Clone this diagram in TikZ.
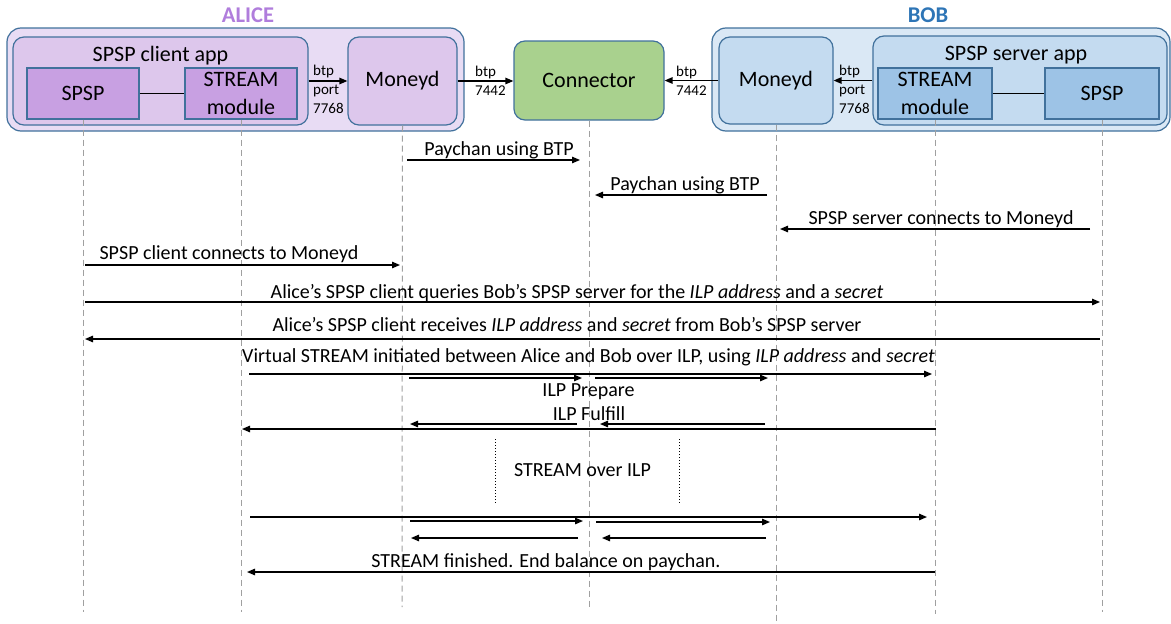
\documentclass[tikz,border=0pt]{standalone}
\usepackage{fontspec}
\setmainfont{Carlito}
\usetikzlibrary{arrows.meta}
\definecolor{bordc}{RGB}{65,113,156}
\definecolor{aouter}{RGB}{232,220,244}
\definecolor{ainner}{RGB}{221,199,236}
\definecolor{amod}{RGB}{200,160,226}
\definecolor{bouter}{RGB}{218,232,245}
\definecolor{binner}{RGB}{196,219,240}
\definecolor{bmod}{RGB}{157,195,230}
\definecolor{connc}{RGB}{169,209,142}
\definecolor{alicec}{RGB}{176,125,220}
\definecolor{bobc}{RGB}{46,117,182}
\definecolor{lifec}{RGB}{160,160,160}
\begin{document}
\begin{tikzpicture}[x=1pt,y=-1pt,
  box/.style={draw=bordc, line width=1.2pt, inner sep=0pt, anchor=center},
  outerbox/.style={box, rounded corners=14pt},
  roundbox/.style={box, rounded corners=11pt},
  big/.style={font=\fontsize{22}{28.5}\selectfont},
  msgf/.style={font=\fontsize{20}{22}\selectfont},
  small/.style={font=\fontsize{15}{18.5}\selectfont},
  lbl/.style={anchor=base, inner sep=0pt},
  slbl/.style={anchor=base west, inner sep=0pt, small},
  life/.style={draw=lifec, line width=1pt, dash pattern=on 6pt off 4pt},
  msg/.style={line width=1.3pt, -{Triangle[length=8pt,width=6.5pt]}},
  link/.style={line width=1.3pt, -{Triangle[length=8pt,width=6.5pt]}}
]
\useasboundingbox (0,0) rectangle (1171,624);

% ---- Alice side
\node[outerbox, fill=aouter, minimum width=457, minimum height=103] (aouter) at (235.5,79.5) {};
\node[lbl, font=\fontsize{22.5}{26}\selectfont\bfseries, text=alicec] (alicelbl) at (248,22.7) {ALICE};
\node[roundbox, fill=ainner, minimum width=295, minimum height=88] (aapp) at (160.5,81) {};
\node[lbl, big] (aapplbl) at (160.5,61) {SPSP client app};
\node[box, fill=amod, minimum width=112, minimum height=51, big] (aspsp) at (83,93.5) {SPSP};
\node[box, fill=amod, minimum width=112, minimum height=51, big, align=center] (astream) at (241,93.5) {STREAM\\module};
\node[roundbox, fill=ainner, minimum width=109, minimum height=88, big] (amoneyd) at (402.5,81) {Moneyd};
\draw[line width=1.2pt] (aspsp.east) -- (astream.west);

% ---- Connector
\node[roundbox, fill=connc, minimum width=150, minimum height=79, big] (conn) at (589,80.5) {Connector};

% ---- Bob side
\node[outerbox, fill=bouter, minimum width=458, minimum height=103] (bouter) at (941,79.5) {};
\node[lbl, font=\fontsize{22.5}{26}\selectfont\bfseries, text=bobc] (boblbl) at (928,22.7) {BOB};
\node[roundbox, fill=binner, minimum width=114, minimum height=87, big] (bmoneyd) at (776,80.5) {Moneyd};
\node[roundbox, fill=binner, minimum width=294, minimum height=89] (bapp) at (1020,80.5) {};
\node[lbl, big] (bapplbl) at (1016,60) {SPSP server app};
\node[box, fill=bmod, minimum width=114, minimum height=51, big, align=center] (bstream) at (935,93.5) {STREAM\\module};
\node[box, fill=bmod, minimum width=114, minimum height=51, big] (bspsp) at (1102,93.5) {SPSP};
\draw[line width=1.2pt] (bstream.east) -- (bspsp.west);

% ---- btp links
\draw[link] (aapp.east) -- (amoneyd.west);
\node[slbl] (t1a) at (313,75) {btp};
\node[slbl] (t1b) at (313,94.5) {port};
\node[slbl] (t1c) at (313,113) {7768};
\draw[link] (amoneyd.east) -- (amoneyd.east -| conn.west);
\node[slbl] (t2a) at (475,76) {btp};
\node[slbl] (t2b) at (475,95) {7442};
\draw[link] (bmoneyd.west) -- (bmoneyd.west -| conn.east);
\node[slbl] (t3a) at (676,76) {btp};
\node[slbl] (t3b) at (676,95) {7442};
\draw[link] (bapp.west) -- (bmoneyd.east);
\node[slbl] (t4a) at (839,75) {btp};
\node[slbl] (t4b) at (839,94.5) {port};
\node[slbl] (t4c) at (839,113) {7768};

% ---- lifelines
\coordinate (e1) at (83,612);
\coordinate (e2) at (241,612);
\coordinate (e3) at (402,607);
\coordinate (e4) at (589,607);
\coordinate (e5) at (776,624);
\coordinate (e6) at (935,614);
\coordinate (e7) at (1102,612);
\draw[life] (aspsp.south) -- (e1);
\draw[life] (astream.south) -- (e2);
\draw[life] (amoneyd.south) -- (e3);
\draw[life] (conn.south) -- (e4);
\draw[life] (bmoneyd.south) -- (e5);
\draw[life] (bstream.south) -- (e6);
\draw[life] (bspsp.south) -- (e7);

% ---- messages
\draw[msg] (407,160) -- (580,160);
\node[lbl, msgf] (m1) at (499,155) {Paychan using BTP};
\draw[msg] (767,195) -- (595,195);
\node[lbl, msgf] (m2) at (685,190) {Paychan using BTP};
\draw[msg] (1090,229) -- (780,229);
\node[lbl, msgf] (m3) at (941,224) {SPSP server connects to Moneyd};
\draw[msg] (85,265) -- (400,265);
\node[lbl, msgf] (m4) at (229,259) {SPSP client connects to Moneyd};
\draw[msg] (85,302) -- (1100,302);
\node[lbl, msgf] (m5) at (577,298) {Alice’s SPSP client queries Bob’s SPSP server for the \textit{ILP address} and a \textit{secret}};
\draw[msg] (1100,339) -- (85,339);
\node[lbl, msgf] (m6) at (567,331) {Alice’s SPSP client receives \textit{ILP address} and \textit{secret} from Bob’s SPSP server};
\draw[msg] (249,374) -- (932,374);
\node[lbl, msgf] (m7) at (588.5,362) {Virtual STREAM initiated between Alice and Bob over ILP, using \textit{ILP address} and \textit{secret}};
\draw[msg] (409,378) -- (582,378);
\draw[msg] (595,378) -- (768,378);
\node[lbl, msgf] (m8) at (588.5,396) {ILP Prepare};
\node[lbl, msgf] (m9) at (589,420.5) {ILP Fulfill};
\draw[msg] (577,424) -- (410,424);
\draw[msg] (765,424) -- (600,424);
\draw[msg] (936,429) -- (242,429);

% ---- STREAM over ILP
\coordinate (d1a) at (495,439);
\coordinate (d1b) at (495,504);
\coordinate (d2a) at (679,439);
\coordinate (d2b) at (679,504);
\draw[dotted, line width=1pt] (d1a) -- (d1b);
\draw[dotted, line width=1pt] (d2a) -- (d2b);
\node[lbl, msgf] (m10) at (582.5,476.5) {STREAM over ILP};

\draw[msg] (250,517) -- (927,517);
\draw[msg] (410,521) -- (583,521);
\draw[msg] (596,522) -- (770,522);
\draw[msg] (578,538) -- (411,538);
\draw[msg] (766,538) -- (602,538);
\draw[msg] (935,572) -- (247,572);
\node[lbl, msgf] (m11) at (546,567) {STREAM finished. End balance on paychan.};
\end{tikzpicture}
\end{document}
